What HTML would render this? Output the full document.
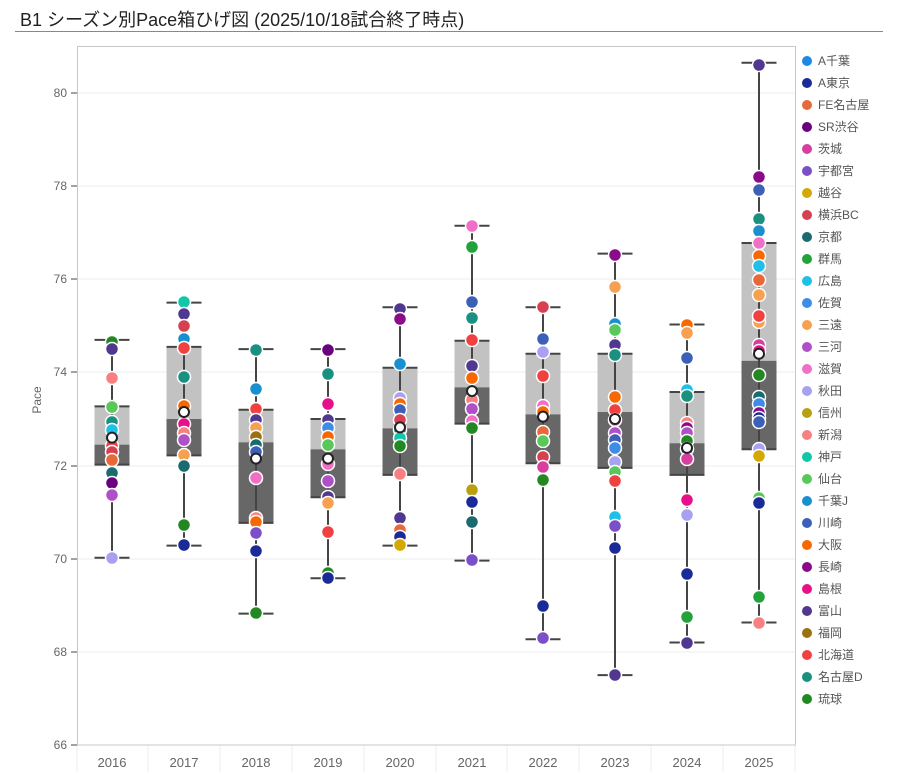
<!DOCTYPE html>
<html><head><meta charset="utf-8"><style>
body{margin:0;background:#fff;}
svg{display:block;font-family:"Liberation Sans","Noto Sans CJK JP",sans-serif;}
</style></head><body>
<svg id="s" width="900" height="782" xmlns="http://www.w3.org/2000/svg">
<text x="20" y="26" font-size="18" fill="#222">B1 シーズン別Pace箱ひげ図 (2025/10/18試合終了時点)</text>
<line x1="15" y1="31.5" x2="883" y2="31.5" stroke="#888" stroke-width="1"/>
<g stroke="#eee" stroke-width="1">
<line x1="77" x2="795" y1="93" y2="93"/><line x1="77" x2="795" y1="186" y2="186"/><line x1="77" x2="795" y1="279" y2="279"/><line x1="77" x2="795" y1="372" y2="372"/><line x1="77" x2="795" y1="466" y2="466"/><line x1="77" x2="795" y1="559" y2="559"/><line x1="77" x2="795" y1="652" y2="652"/>
</g>
<g stroke="#eee"><line x1="148" x2="148" y1="745" y2="772"/><line x1="220" x2="220" y1="745" y2="772"/><line x1="292" x2="292" y1="745" y2="772"/><line x1="364" x2="364" y1="745" y2="772"/><line x1="436" x2="436" y1="745" y2="772"/><line x1="507" x2="507" y1="745" y2="772"/><line x1="579" x2="579" y1="745" y2="772"/><line x1="651" x2="651" y1="745" y2="772"/><line x1="723" x2="723" y1="745" y2="772"/><line x1="77" x2="77" y1="745" y2="772"/><line x1="795" x2="795" y1="745" y2="772"/></g>
<rect x="77.5" y="46.5" width="718" height="698.5" fill="none" stroke="#c8c8c8"/>
<g font-size="12" fill="#666" text-anchor="end">
<text x="67" y="97">80</text><text x="67" y="190">78</text><text x="67" y="283">76</text><text x="67" y="376">74</text><text x="67" y="470">72</text><text x="67" y="563">70</text><text x="67" y="656">68</text><text x="67" y="749">66</text>
</g>
<g stroke="#444"><line x1="71" x2="77" y1="93" y2="93"/><line x1="71" x2="77" y1="186" y2="186"/><line x1="71" x2="77" y1="279" y2="279"/><line x1="71" x2="77" y1="372" y2="372"/><line x1="71" x2="77" y1="466" y2="466"/><line x1="71" x2="77" y1="559" y2="559"/><line x1="71" x2="77" y1="652" y2="652"/><line x1="71" x2="77" y1="745" y2="745"/></g>
<text transform="translate(41,400) rotate(-90)" font-size="12" fill="#666" text-anchor="middle">Pace</text>
<g font-size="13" fill="#666" text-anchor="middle">
<text x="112" y="767">2016</text><text x="184" y="767">2017</text><text x="256" y="767">2018</text><text x="328" y="767">2019</text><text x="400" y="767">2020</text><text x="472" y="767">2021</text><text x="543" y="767">2022</text><text x="615" y="767">2023</text><text x="687" y="767">2024</text><text x="759" y="767">2025</text>
</g>
<g id="plot"></g>
<g font-size="12" fill="#555">
<text x="818" y="65">A千葉</text><text x="818" y="87">A東京</text><text x="818" y="109">FE名古屋</text><text x="818" y="131">SR渋谷</text><text x="818" y="153">茨城</text><text x="818" y="175">宇都宮</text><text x="818" y="197">越谷</text><text x="818" y="219">横浜BC</text><text x="818" y="241">京都</text><text x="818" y="263">群馬</text><text x="818" y="285">広島</text><text x="818" y="307">佐賀</text><text x="818" y="329">三遠</text><text x="818" y="351">三河</text><text x="818" y="373">滋賀</text><text x="818" y="395">秋田</text><text x="818" y="417">信州</text><text x="818" y="439">新潟</text><text x="818" y="461">神戸</text><text x="818" y="483">仙台</text><text x="818" y="505">千葉J</text><text x="818" y="527">川崎</text><text x="818" y="549">大阪</text><text x="818" y="571">長崎</text><text x="818" y="593">島根</text><text x="818" y="615">富山</text><text x="818" y="637">福岡</text><text x="818" y="659">北海道</text><text x="818" y="681">名古屋D</text><text x="818" y="703">琉球</text>
</g>
<g id="leg"></g>
</svg>
<script>
const C={Ac:'#1e88e5',At:'#1a2a96',FE:'#e8683a',SR:'#6a0080',Ib:'#d63fa0',Ut:'#7b4fc8',Kg:'#d4a800',YB:'#d64050',Ky:'#1a6b70',Gm:'#23a23a',Hi:'#1ec0e8',Sa:'#3d8ce8',Se:'#f7a050',Mk:'#b050c8',Sh:'#f070c8',Ak:'#a8a0f0',Ss:'#b8a010',Ni:'#f88080',Ko:'#10c8a8',Sd:'#58c858',CJ:'#1890d0',Kw:'#3c60b8',Os:'#f86800',Ng:'#8a0a8a',Sm:'#e8108a',To:'#503890',Fk:'#9a7010',Ho:'#f04040',ND:'#1a9080',Ry:'#228822'};
const order=['Ac','At','FE','SR','Ib','Ut','Kg','YB','Ky','Gm','Hi','Sa','Se','Mk','Sh','Ak','Ss','Ni','Ko','Sd','CJ','Kw','Os','Ng','Sm','To','Fk','Ho','ND','Ry'];
const y=v=>745-(v-66)*46.57;
const B=[
[112,74.7,73.27,72.45,72.02,70.02,72.6,[[342,'Ry'],[349,'To'],[378,'Ni'],[407,'Sd'],[422,'ND'],[430,'Hi'],[446,'Ho'],[452,'YB'],[460,'FE'],[473,'Ky'],[483,'SR'],[495,'Mk'],[558,'Ak']]],
[184,75.5,74.55,73.0,72.22,70.28,73.15,[[302,'Ko'],[314,'To'],[326,'YB'],[339,'CJ'],[348,'Ho'],[377,'ND'],[406,'Os'],[424,'Sm'],[433,'Ni'],[440,'Mk'],[455,'Se'],[466,'Ky'],[525,'Ry'],[545,'At']]],
[256,74.5,73.2,72.5,70.77,68.82,72.15,[[350,'ND'],[389,'CJ'],[409,'Ho'],[420,'To'],[428,'Se'],[437,'Fk'],[445,'Ky'],[452,'Kw'],[478,'Sh'],[518,'Ni'],[522,'Os'],[533,'Ut'],[551,'At'],[613,'Ry']]],
[328,74.5,73.0,72.35,71.32,69.58,72.15,[[350,'SR'],[374,'ND'],[404,'Sm'],[420,'To'],[428,'Sa'],[437,'Os'],[445,'Sd'],[464,'Sh'],[481,'Mk'],[497,'To'],[503,'Se'],[532,'Ho'],[573,'Ry'],[578,'At']]],
[400,75.4,74.1,72.8,71.8,70.28,72.82,[[309,'To'],[319,'Ng'],[364,'CJ'],[398,'Ak'],[404,'Os'],[410,'Kw'],[420,'YB'],[430,'ND'],[438,'Ko'],[446,'Ry'],[474,'Ni'],[518,'To'],[530,'FE'],[537,'At'],[545,'Kg']]],
[472,77.15,74.68,73.68,72.9,69.96,73.6,[[226,'Sh'],[247,'Gm'],[302,'Kw'],[318,'ND'],[340,'Ho'],[366,'To'],[378,'Os'],[400,'Ni'],[409,'Mk'],[421,'Sh'],[428,'Ry'],[490,'Ss'],[502,'At'],[522,'Ky'],[560,'Ut']]],
[543,75.4,74.4,73.1,72.05,68.27,73.05,[[307,'YB'],[339,'Kw'],[352,'Ak'],[376,'Ho'],[406,'Sh'],[412,'Os'],[432,'FE'],[441,'Sd'],[457,'YB'],[467,'Ib'],[480,'Ry'],[606,'At'],[638,'Ut']]],
[615,76.55,74.4,73.15,71.95,67.5,73.0,[[255,'Ng'],[287,'Se'],[324,'CJ'],[330,'Sd'],[345,'To'],[355,'ND'],[397,'Os'],[410,'Ho'],[420,'Sh'],[433,'Mk'],[440,'Kw'],[448,'Sa'],[462,'Ak'],[472,'Sd'],[481,'Ho'],[517,'Hi'],[526,'Ut'],[548,'At'],[675,'To']]],
[687,75.03,73.58,72.48,71.8,68.2,72.38,[[325,'Os'],[333,'Se'],[358,'Kw'],[390,'Hi'],[396,'ND'],[423,'Ni'],[428,'Ng'],[433,'Mk'],[441,'Ry'],[449,'Ky'],[459,'Ib'],[500,'Sm'],[515,'Ak'],[574,'At'],[617,'Gm'],[643,'To']]],
[759,80.65,76.78,74.25,72.35,68.63,74.4,[[65,'To'],[177,'Ng'],[190,'Kw'],[219,'ND'],[231,'CJ'],[243,'Sh'],[256,'Os'],[266,'Hi'],[280,'FE'],[295,'Se'],[322,'Se'],[316,'Ho'],[345,'Ib'],[351,'Sm'],[375,'Ry'],[397,'Ky'],[404,'Sa'],[413,'Ng'],[418,'At'],[422,'Kw'],[449,'Ak'],[456,'Kg'],[498,'Sd'],[503,'At'],[597,'Gm'],[623,'Ni']]]
];
let h='';
for(const [x,hi,q3,md,q1,lo,mn,d] of B){
 h+=`<rect x="${x-17.5}" y="${y(q3)}" width="35" height="${y(md)-y(q3)}" fill="#c2c2c2"/>`;
 h+=`<rect x="${x-17.5}" y="${y(md)}" width="35" height="${y(q1)-y(md)}" fill="#676767"/>`;
 h+=`<line x1="${x}" x2="${x}" y1="${y(hi)}" y2="${y(lo)}" stroke="#444" stroke-width="2"/>`;
 for(const v of [hi,lo,q3,q1]) h+=`<line x1="${x-17.5}" x2="${x+17.5}" y1="${y(v)}" y2="${y(v)}" stroke="#444" stroke-width="2"/>`;
 for(const [py,c] of d) h+=`<circle cx="${x}" cy="${py}" r="6.5" fill="${C[c]}" stroke="#fff" stroke-width="1.5"/>`;
 h+=`<circle cx="${x}" cy="${y(mn)}" r="5" fill="#fff" stroke="#222" stroke-width="2"/>`;
}
document.getElementById('plot').innerHTML=h;
let l='';order.forEach((k,i)=>{l+=`<circle cx="807" cy="${61+22*i}" r="5" fill="${C[k]}"/>`;});
document.getElementById('leg').innerHTML=l;
</script>
</body></html>
